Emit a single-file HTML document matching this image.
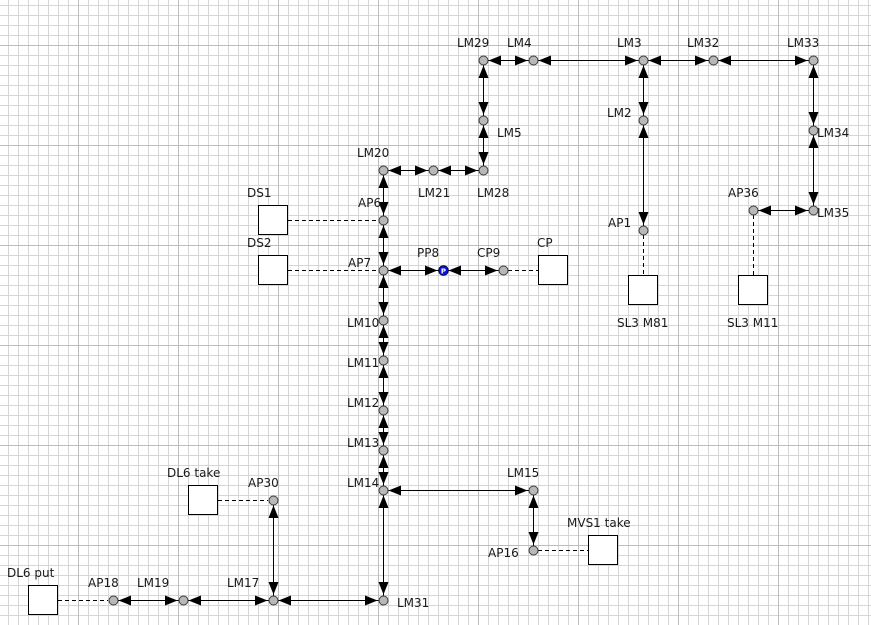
<!DOCTYPE html>
<html>
<head>
<meta charset="utf-8">
<style>
  html, body { margin:0; padding:0; background:#fff; }
  #wrap {
    position:relative; width:871px; height:625px; overflow:hidden;
    background-color:#fff;
    background-image:
      linear-gradient(to right, #bdbdbd 1px, transparent 1px),
      linear-gradient(to bottom, #bdbdbd 1px, transparent 1px),
      linear-gradient(to right, #d6d6d6 1px, transparent 1px),
      linear-gradient(to bottom, #d6d6d6 1px, transparent 1px);
    background-size: 100px 100px, 100px 100px, 10px 10px, 10px 10px;
    background-position: 78px 45px, 78px 45px, 8px 5px, 8px 5px;
  }
  svg { display:block; position:absolute; left:0; top:0; }
  text { font-family: "DejaVu Sans", "Liberation Sans", sans-serif; font-size:12px; fill:#1a1a1a; }
</style>
</head>
<body>
<div id="wrap">
<svg width="871" height="625" viewBox="0 0 871 625" xmlns="http://www.w3.org/2000/svg">
  <!-- dashed connectors -->
  <g stroke="#000" stroke-width="1" stroke-dasharray="4,3" fill="none" shape-rendering="crispEdges">
    <path d="M288 220.5H378"/>
    <path d="M288 270.5H378"/>
    <path d="M508 270.5H538"/>
    <path d="M643.5 235V275"/>
    <path d="M753.5 215V275"/>
    <path d="M218 500.5H268"/>
    <path d="M538 550.5H588"/>
    <path d="M58 600.5H108"/>
  </g>

  <!-- solid edges -->
  <path d="M483 60.5H813M753 210.5H813M383 170.5H483M383 270.5H503M383 490.5H533M113 600.5H383M483.5 60V170M643.5 60V230M813.5 60V210M383.5 170V600M533.5 490V550M273.5 500V600" stroke="#000" stroke-width="1" fill="none" shape-rendering="crispEdges"/>

  <!-- arrowheads -->
  <g fill="#000">
    <polygon points="488.5,60.5 501,55.5 501,65.5"/><polygon points="527.5,60.5 515,55.5 515,65.5"/>
    <polygon points="538.5,60.5 551,55.5 551,65.5"/><polygon points="637.5,60.5 625,55.5 625,65.5"/>
    <polygon points="648.5,60.5 661,55.5 661,65.5"/><polygon points="707.5,60.5 695,55.5 695,65.5"/>
    <polygon points="718.5,60.5 731,55.5 731,65.5"/><polygon points="807.5,60.5 795,55.5 795,65.5"/>
    <polygon points="758.5,210.5 771,205.5 771,215.5"/><polygon points="807.5,210.5 795,205.5 795,215.5"/>
    <polygon points="388.5,170.5 401,165.5 401,175.5"/><polygon points="427.5,170.5 415,165.5 415,175.5"/>
    <polygon points="438.5,170.5 451,165.5 451,175.5"/><polygon points="477.5,170.5 465,165.5 465,175.5"/>
    <polygon points="388.5,270.5 401,265.5 401,275.5"/><polygon points="437.5,270.5 425,265.5 425,275.5"/>
    <polygon points="448.5,270.5 461,265.5 461,275.5"/><polygon points="497.5,270.5 485,265.5 485,275.5"/>
    <polygon points="388.5,490.5 401,485.5 401,495.5"/><polygon points="527.5,490.5 515,485.5 515,495.5"/>
    <polygon points="118.5,600.5 131,595.5 131,605.5"/><polygon points="177.5,600.5 165,595.5 165,605.5"/>
    <polygon points="188.5,600.5 201,595.5 201,605.5"/><polygon points="267.5,600.5 255,595.5 255,605.5"/>
    <polygon points="278.5,600.5 291,595.5 291,605.5"/><polygon points="377.5,600.5 365,595.5 365,605.5"/>

    <polygon points="483.5,65.5 478.5,78 488.5,78"/><polygon points="483.5,114.5 478.5,102 488.5,102"/>
    <polygon points="483.5,125.5 478.5,138 488.5,138"/><polygon points="483.5,164.5 478.5,152 488.5,152"/>
    <polygon points="643.5,65.5 638.5,78 648.5,78"/><polygon points="643.5,114.5 638.5,102 648.5,102"/>
    <polygon points="643.5,125.5 638.5,138 648.5,138"/><polygon points="643.5,224.5 638.5,212 648.5,212"/>
    <polygon points="813.5,65.5 808.5,78 818.5,78"/><polygon points="813.5,124.5 808.5,112 818.5,112"/>
    <polygon points="813.5,135.5 808.5,148 818.5,148"/><polygon points="813.5,204.5 808.5,192 818.5,192"/>
    <polygon points="383.5,175.5 378.5,188 388.5,188"/><polygon points="383.5,214.5 378.5,202 388.5,202"/>
    <polygon points="383.5,225.5 378.5,238 388.5,238"/><polygon points="383.5,264.5 378.5,252 388.5,252"/>
    <polygon points="383.5,275.5 378.5,288 388.5,288"/><polygon points="383.5,314.5 378.5,302 388.5,302"/>
    <polygon points="383.5,325.5 378.5,338 388.5,338"/><polygon points="383.5,354.5 378.5,342 388.5,342"/>
    <polygon points="383.5,365.5 378.5,378 388.5,378"/><polygon points="383.5,404.5 378.5,392 388.5,392"/>
    <polygon points="383.5,415.5 378.5,428 388.5,428"/><polygon points="383.5,444.5 378.5,432 388.5,432"/>
    <polygon points="383.5,455.5 378.5,468 388.5,468"/><polygon points="383.5,484.5 378.5,472 388.5,472"/>
    <polygon points="383.5,495.5 378.5,508 388.5,508"/><polygon points="383.5,594.5 378.5,582 388.5,582"/>
    <polygon points="533.5,495.5 528.5,508 538.5,508"/><polygon points="533.5,544.5 528.5,532 538.5,532"/>
    <polygon points="273.5,505.5 268.5,518 278.5,518"/><polygon points="273.5,594.5 268.5,582 278.5,582"/>
  </g>

  <!-- boxes -->
  <g fill="#fff" stroke="#000" stroke-width="1" shape-rendering="crispEdges">
    <rect x="258.5" y="205.5" width="29" height="29"/>
    <rect x="258.5" y="255.5" width="29" height="29"/>
    <rect x="538.5" y="255.5" width="29" height="29"/>
    <rect x="628.5" y="275.5" width="29" height="29"/>
    <rect x="738.5" y="275.5" width="29" height="29"/>
    <rect x="188.5" y="485.5" width="29" height="29"/>
    <rect x="588.5" y="535.5" width="29" height="29"/>
    <rect x="28.5" y="585.5" width="29" height="29"/>
  </g>

  <!-- nodes -->
  <g fill="#b8b8b8" stroke="#3a3a3a" stroke-width="1">
    <circle cx="483.5" cy="60.5" r="4.5"/><circle cx="533.5" cy="60.5" r="4.5"/>
    <circle cx="643.5" cy="60.5" r="4.5"/><circle cx="713.5" cy="60.5" r="4.5"/>
    <circle cx="813.5" cy="60.5" r="4.5"/><circle cx="483.5" cy="120.5" r="4.5"/>
    <circle cx="643.5" cy="120.5" r="4.5"/><circle cx="813.5" cy="130.5" r="4.5"/>
    <circle cx="383.5" cy="170.5" r="4.5"/><circle cx="433.5" cy="170.5" r="4.5"/>
    <circle cx="483.5" cy="170.5" r="4.5"/><circle cx="753.5" cy="210.5" r="4.5"/>
    <circle cx="813.5" cy="210.5" r="4.5"/><circle cx="383.5" cy="220.5" r="4.5"/>
    <circle cx="643.5" cy="230.5" r="4.5"/><circle cx="383.5" cy="270.5" r="4.5"/>
    <circle cx="503.5" cy="270.5" r="4.5"/><circle cx="383.5" cy="320.5" r="4.5"/>
    <circle cx="383.5" cy="360.5" r="4.5"/><circle cx="383.5" cy="410.5" r="4.5"/>
    <circle cx="383.5" cy="450.5" r="4.5"/><circle cx="383.5" cy="490.5" r="4.5"/>
    <circle cx="533.5" cy="490.5" r="4.5"/><circle cx="273.5" cy="500.5" r="4.5"/>
    <circle cx="533.5" cy="550.5" r="4.5"/><circle cx="113.5" cy="600.5" r="4.5"/>
    <circle cx="183.5" cy="600.5" r="4.5"/><circle cx="273.5" cy="600.5" r="4.5"/>
    <circle cx="383.5" cy="600.5" r="4.5"/>
  </g>
  <circle cx="443.5" cy="270.5" r="4.8" fill="#0a14e6" stroke="#00003a" stroke-width="1"/>
  <text x="443.5" y="273.5" text-anchor="middle" style="font-size:7px;font-weight:bold;fill:#fff;">P</text>

  <!-- labels -->
  <text x="457" y="47">LM29</text>
  <text x="507" y="47">LM4</text>
  <text x="617" y="47">LM3</text>
  <text x="687" y="47">LM32</text>
  <text x="787" y="47">LM33</text>
  <text x="497" y="137">LM5</text>
  <text x="607" y="117">LM2</text>
  <text x="817" y="137">LM34</text>
  <text x="357" y="157">LM20</text>
  <text x="418" y="197">LM21</text>
  <text x="477" y="197">LM28</text>
  <text x="247" y="197">DS1</text>
  <text x="247" y="247">DS2</text>
  <text x="358" y="207">AP6</text>
  <text x="348" y="267">AP7</text>
  <text x="417" y="257">PP8</text>
  <text x="477" y="257">CP9</text>
  <text x="537" y="247">CP</text>
  <text x="608" y="227">AP1</text>
  <text x="728" y="197">AP36</text>
  <text x="817" y="217">LM35</text>
  <text x="617" y="327">SL3 M81</text>
  <text x="727" y="327">SL3 M11</text>
  <text x="347" y="327">LM10</text>
  <text x="347" y="367">LM11</text>
  <text x="347" y="407">LM12</text>
  <text x="347" y="447">LM13</text>
  <text x="347" y="487">LM14</text>
  <text x="507" y="477">LM15</text>
  <text x="167" y="477">DL6 take</text>
  <text x="248" y="487">AP30</text>
  <text x="567" y="527">MVS1 take</text>
  <text x="488" y="557">AP16</text>
  <text x="397" y="607">LM31</text>
  <text x="7" y="577">DL6 put</text>
  <text x="88" y="587">AP18</text>
  <text x="137" y="587">LM19</text>
  <text x="227" y="587">LM17</text>
</svg>
</div>
</body>
</html>
